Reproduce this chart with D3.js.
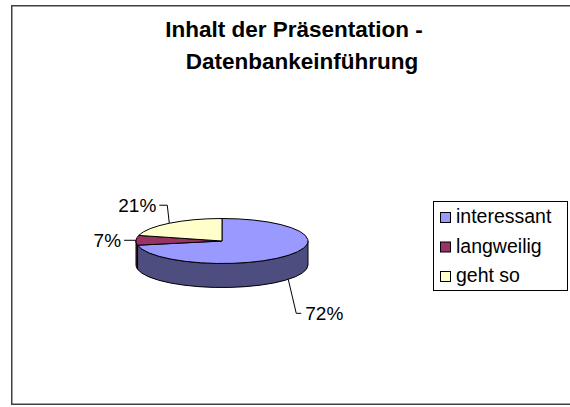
<!DOCTYPE html>
<html>
<head>
<meta charset="utf-8">
<script src="https://cdn.jsdelivr.net/npm/d3@7"></script>
<style>
  body { margin: 0; background: #fff; }
  svg { display: block; font-family: "Liberation Sans", Arial, sans-serif; }
</style>
</head>
<body>
<svg class="chart" width="570" height="407"></svg>
<script>
// data
const categories = ['interessant', 'langweilig', 'geht so']
const values = [72, 7, 21]
const titleLines = ['Inhalt der Präsentation -', 'Datenbankeinführung']

// colours (top face / side wall)
const topColors = ['#9999ff', '#993366', '#ffffcc']
const sideColors = ['#4d4d80', '#4d1a33', '#80806a']

// leader layout per slice: elbow and end offsets from the anchor, label side
const leaderLayout = [
  { elbow: [8, 34], end: [13, 34], anchor: 'start' },
  { elbow: [-6, 0], end: [-12, 0], anchor: 'end' },
  { elbow: [-2, -18], end: [-10, -18], anchor: 'end' }
]

const svg = d3.select('.chart')

// outer frame
svg.append('rect')
  .attr('x', 11.75)
  .attr('y', 5.75)
  .attr('width', 600)
  .attr('height', 398.5)
  .attr('fill', '#fff')
  .attr('stroke', '#404040')
  .attr('stroke-width', 1.5)

// title
svg.append('g').selectAll('text')
  .data(titleLines)
  .enter()
  .append('text')
  .attr('x', function (d, i) { return i === 0 ? 294 : 302 })
  .attr('y', function (d, i) { return 37 + i * 32 })
  .attr('text-anchor', 'middle')
  .attr('font-size', 22.5)
  .attr('font-weight', 'bold')
  .attr('fill', '#000')
  .text(function (d) { return d })

// pie geometry
const cx = 222
const cy = 241
const rx = 86
const ry = 22.5
const depth = 24

const pie = d3.pie().sort(null).value(function (d) { return d })
const arcs = pie(values)

function pt (a, dy) {
  return [cx + rx * Math.sin(a), cy - ry * Math.cos(a) + (dy || 0)]
}

// side walls (front half only: angles between PI/2 and 3PI/2)
const sides = svg.append('g')
arcs.forEach(function (d, i) {
  const a1 = Math.max(d.startAngle, Math.PI / 2)
  const a2 = Math.min(d.endAngle, Math.PI * 3 / 2)
  if (a2 <= a1) return
  const p1 = pt(a1)
  const p2 = pt(a2)
  const q2 = pt(a2, depth)
  const q1 = pt(a1, depth)
  const large = (a2 - a1) > Math.PI ? 1 : 0
  const path = 'M' + p1 +
    'A' + rx + ',' + ry + ' 0 ' + large + ' 1 ' + p2 +
    'L' + q2 +
    'A' + rx + ',' + ry + ' 0 ' + large + ' 0 ' + q1 + 'Z'
  sides.append('path')
    .attr('d', path)
    .attr('fill', sideColors[i])
    .attr('stroke', '#000')
    .attr('stroke-width', 1)
    .attr('stroke-linejoin', 'round')
})

// top faces
const arc = d3.arc().innerRadius(0).outerRadius(rx)
svg.append('g')
  .attr('transform', 'translate(' + cx + ',' + cy + ') scale(1,' + (ry / rx) + ')')
  .selectAll('path')
  .data(arcs)
  .enter()
  .append('path')
  .attr('d', arc)
  .attr('fill', function (d, i) { return topColors[i] })
  .attr('stroke', '#000')
  .attr('stroke-width', 1)
  .attr('vector-effect', 'non-scaling-stroke')

// data labels with leader lines
const fmt = function (v) { return v + '%' }
const labels = svg.append('g')
arcs.forEach(function (d, i) {
  const mid = (d.startAngle + d.endAngle) / 2
  const front = Math.cos(mid) < 0
  const a = pt(mid, front ? depth : 0)
  const lay = leaderLayout[i]
  const e = [a[0] + lay.elbow[0], a[1] + lay.elbow[1]]
  const f = [a[0] + lay.end[0], a[1] + lay.end[1]]
  labels.append('path')
    .attr('d', 'M' + a + 'L' + e + 'L' + f)
    .attr('fill', 'none')
    .attr('stroke', '#000')
    .attr('stroke-width', 1)
  labels.append('text')
    .attr('x', f[0] + (lay.anchor === 'start' ? 4 : -3))
    .attr('y', f[1])
    .attr('dy', '0.35em')
    .attr('text-anchor', lay.anchor)
    .attr('font-size', 19)
    .attr('fill', '#000')
    .text(fmt(d.data))
})

// legend
const legend = svg.append('g')
legend.append('rect')
  .attr('x', 433.5)
  .attr('y', 201.5)
  .attr('width', 134)
  .attr('height', 89)
  .attr('fill', '#fff')
  .attr('stroke', '#000')
  .attr('stroke-width', 1)

const rows = legend.selectAll('.item')
  .data(categories)
  .enter()
  .append('g')
  .attr('class', 'item')
  .attr('transform', function (d, i) { return 'translate(440,' + (212 + i * 29.5) + ')' })

rows.append('rect')
  .attr('x', 0.5)
  .attr('y', 0.5)
  .attr('width', 10)
  .attr('height', 10)
  .attr('fill', function (d, i) { return topColors[i] })
  .attr('stroke', '#000')
  .attr('stroke-width', 1)

rows.append('text')
  .attr('x', 16)
  .attr('y', 11)
  .attr('font-size', 19.5)
  .attr('fill', '#000')
  .text(function (d) { return d })
</script>
</body>
</html>
